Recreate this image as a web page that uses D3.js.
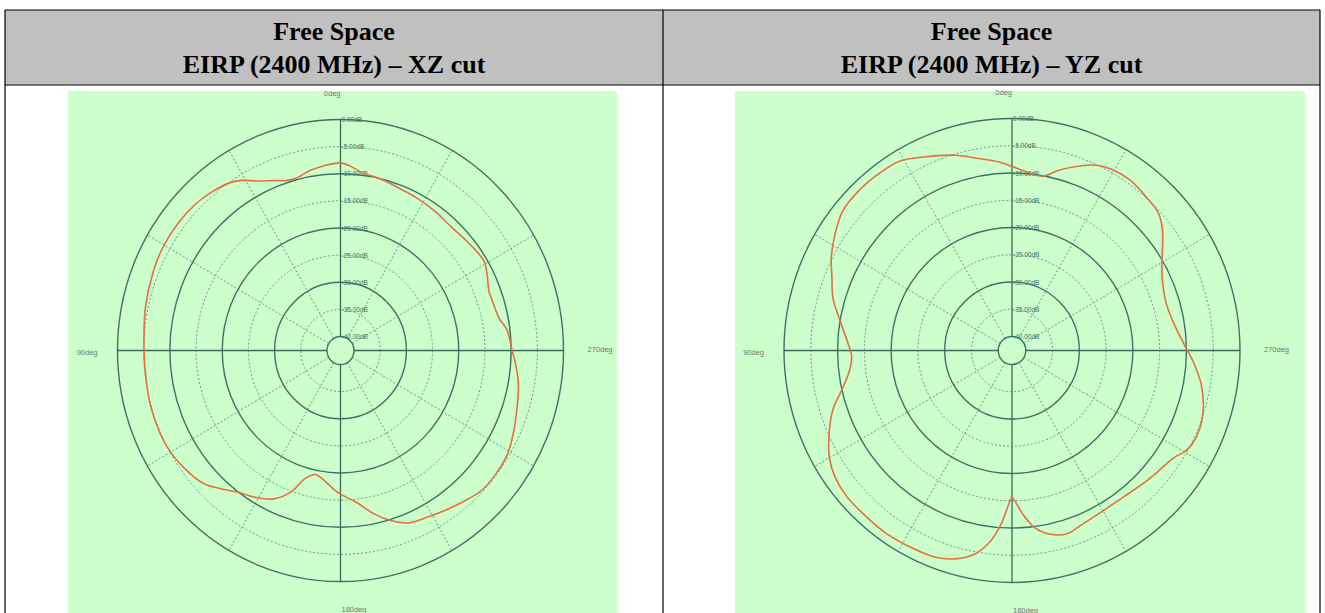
<!DOCTYPE html>
<html><head><meta charset="utf-8">
<script src="https://cdn.jsdelivr.net/npm/d3@7"></script>
<style>html,body{margin:0;padding:0;background:#fff;overflow:hidden}</style>
</head><body>
<svg id="c" width="1325" height="613"></svg>
<script>
// ---- data ----
const headerLine1 = ["Free Space", "Free Space"];
const headerLine2 = ["EIRP (2400 MHz) \u2013 XZ cut", "EIRP (2400 MHz) \u2013 YZ cut"];
const ringDb = [0, -5, -10, -15, -20, -25, -30, -35, -40];
const ringLabels = ["0.00dB", "-5.00dB", "-10.00dB", "-15.00dB", "-20.00dB", "-25.00dB", "-30.00dB", "-35.00dB", "-40.00dB"];
const spokeAngles = [30, 60, 120, 150, 210, 240, 300, 330];
const angleLabels = ["0deg", "90deg", "180deg", "270deg"];

const xzAngles = [0,5.5,10,15,18,22,27,31,34,40,46,53,61,68,78,87,96,106,114,120,126,133,138,143,149,155,160,164,168,172,177,180,186,192,197,202,208,214,220,226,232,239,245,253,260,266,270,277,281,288,291,297,301,309,317,325,333,340,346,353,357];
const xzDb = [-8.0,-8.4,-8.9,-9.7,-9.6,-8.8,-7.5,-6.0,-5.2,-4.4,-3.9,-3.7,-3.7,-4.0,-4.5,-5.0,-5.1,-4.9,-4.9,-5.1,-5.7,-6.7,-8.3,-9.9,-11.0,-12.4,-14.8,-18.0,-19.2,-18.6,-17.0,-16.1,-14.5,-11.8,-9.8,-8.3,-7.7,-7.0,-6.2,-5.3,-5.2,-5.4,-6.2,-7.3,-8.1,-9.1,-9.8,-10.6,-11.7,-12.2,-12.2,-11.2,-10.6,-11.1,-11.5,-11.2,-10.9,-10.6,-10.1,-9.5,-8.5];

const yzAngles = [0,4,10,16.5,25,31,37,44,51,57,63,68,74,80,87,92,97,103,108,114,120,125,131,139,145,152,159,164.5,169.5,173.5,176.3,178.8,180,181.8,183.8,187.4,192,197,202.5,210,217.4,225,231,237,240,243,248,254,260,266,272,279,287,296,301.5,308,312.6,318,325,331,335.6,340,345,350,355];
const yzDb = [-8.8,-7.9,-6.8,-5.2,-3.4,-2.0,-1.7,-1.6,-1.9,-3.2,-4.7,-6.3,-7.8,-9.9,-11.8,-12.6,-12.0,-9.9,-7.4,-5.2,-3.2,-2.2,-1.7,-1.7,-1.6,-1.8,-2.0,-2.9,-4.6,-7.4,-10.6,-14.4,-15.6,-14.4,-12.5,-9.8,-8.1,-7.4,-8.1,-8.6,-8.6,-8.0,-7.4,-6.5,-5.4,-4.8,-4.7,-5.4,-6.7,-8.5,-10.4,-11.9,-12.5,-11.4,-9.7,-6.9,-5.4,-4.9,-4.3,-4.5,-5.2,-6.6,-8.3,-10.1,-9.7];

// ---- layout ----
const svg = d3.select("#c");
const T = {left: 5, mid: 663, right: 1320, top: 10, headBottom: 85, bottom: 613};

const panels = [
  {angles: xzAngles, db: xzDb, bg: [68, 91, 617, 613], cx: 340.5, cy: 350.5, R: 231, rx: 223},
  {angles: yzAngles, db: yzDb, bg: [735, 91, 1305, 613], cx: 1012, cy: 350.5, R: 232, rx: 228}
];

// header background
svg.append("rect").attr("x", T.left).attr("y", T.top).attr("width", T.right - T.left).attr("height", T.headBottom - T.top).attr("fill", "#c0c0c0");

panels.forEach((p, i) => {
  const g = svg.append("g");
  g.append("rect").attr("x", p.bg[0]).attr("y", p.bg[1]).attr("width", p.bg[2] - p.bg[0]).attr("height", p.bg[3] - p.bg[1]).attr("fill", "#ccffcc");
  const r = d3.scaleLinear().domain([-40, 0]).range([14, p.R]);
  const sx = p.rx / p.R;
  const px = (a, db) => p.cx - sx * r(db) * Math.sin(a * Math.PI / 180);
  const py = (a, db) => p.cy - r(db) * Math.cos(a * Math.PI / 180);

  // spokes (dotted)
  spokeAngles.forEach(a => {
    g.append("line").attr("x1", px(a, -40)).attr("y1", py(a, -40)).attr("x2", px(a, 0)).attr("y2", py(a, 0))
      .attr("stroke", "#5a9f86").attr("stroke-width", 1).attr("stroke-dasharray", "2,2");
  });
  // rings
  ringDb.forEach((d, k) => {
    const solid = (d % 10 === 0);
    g.append("ellipse").attr("cx", p.cx).attr("cy", p.cy).attr("rx", sx * r(d)).attr("ry", r(d))
      .attr("fill", "none")
      .attr("stroke", solid ? "#3a7465" : "#5a9f86")
      .attr("stroke-width", solid ? 1.4 : 1)
      .attr("stroke-dasharray", solid ? null : "2,2");
  });
  // axes
  [0, 90, 180, 270].forEach(a => {
    g.append("line").attr("x1", px(a, -40)).attr("y1", py(a, -40)).attr("x2", px(a, 0)).attr("y2", py(a, 0))
      .attr("stroke", "#3a6a5e").attr("stroke-width", 1.3);
  });
  // dB labels
  ringDb.forEach((d, k) => {
    g.append("text").attr("x", p.cx + 1).attr("y", py(0, d) + 2.5).text(ringLabels[k])
      .attr("font-family", "Liberation Sans, Arial, sans-serif").attr("font-size", 6.5).attr("fill", "#3f6f62");
  });
  // angle labels
  const lab = (t, x, y, anchor) => g.append("text").attr("x", x).attr("y", y).attr("text-anchor", anchor).text(t)
      .attr("font-family", "Liberation Sans, Arial, sans-serif").attr("font-size", 7.5).attr("fill", "#6a7a70");
  lab(angleLabels[0], p.cx, p.cy - p.R - 24, "end");
  lab(angleLabels[1], p.cx - p.rx - 20, p.cy + 4, "end");
  lab(angleLabels[2], p.cx + 1, p.cy + p.R + 30, "start");
  lab(angleLabels[3], p.cx + p.rx + 24, p.cy + 1, "start");

  // pattern curve
  const pts = p.angles.map((a, k) => [px(a, p.db[k]), py(a, p.db[k])]);
  const line = d3.line().curve(d3.curveCatmullRomClosed.alpha(0.5));
  g.append("path").attr("d", line(pts)).attr("fill", "none").attr("stroke", "#e5703f").attr("stroke-width", 1.6);
});

// table borders
const bc = "#000";
[[T.left, T.top, T.right, T.top], [T.left, T.headBottom, T.right, T.headBottom],
 [T.left, T.top, T.left, T.bottom], [T.mid, T.top, T.mid, T.bottom], [T.right, T.top, T.right, T.bottom]]
 .forEach(l => svg.append("line").attr("x1", l[0]).attr("y1", l[1]).attr("x2", l[2]).attr("y2", l[3]).attr("stroke", bc).attr("stroke-width", 1.2));

// header text
[(T.left + T.mid) / 2, (T.mid + T.right) / 2].forEach((x, i) => {
  svg.append("text").attr("x", x).attr("y", 40).attr("text-anchor", "middle").text(headerLine1[i])
    .attr("font-family", "Liberation Serif, Times New Roman, serif").attr("font-weight", "bold").attr("font-size", 26);
  svg.append("text").attr("x", x).attr("y", 73).attr("text-anchor", "middle").text(headerLine2[i])
    .attr("font-family", "Liberation Serif, Times New Roman, serif").attr("font-weight", "bold").attr("font-size", 26);
});
</script>
</body></html>
